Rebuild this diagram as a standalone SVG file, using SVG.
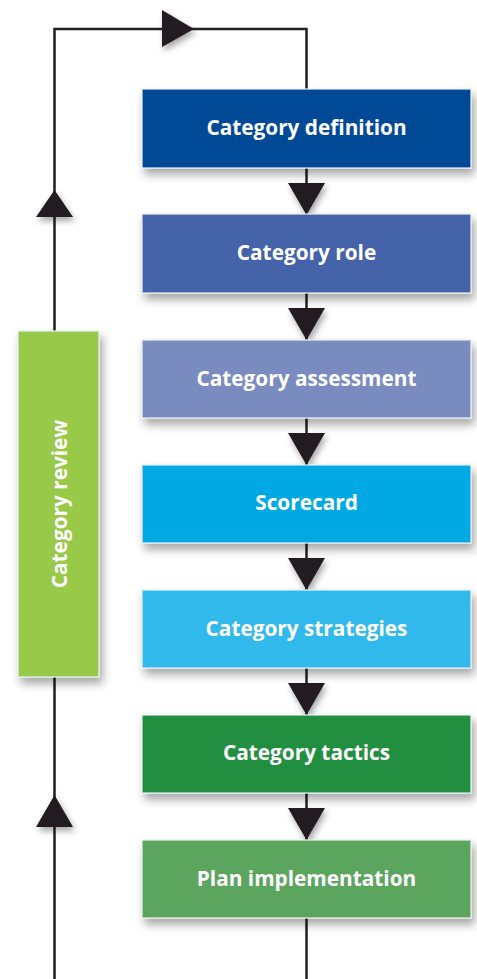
<svg xmlns="http://www.w3.org/2000/svg" width="477" height="979" viewBox="0 0 477 979">
<defs>
<filter id="sh" x="-20%" y="-20%" width="150%" height="150%">
<feDropShadow dx="3" dy="6" stdDeviation="5" flood-color="#000" flood-opacity="0.35"/>
</filter>
<filter id="sh2" x="-50%" y="-50%" width="200%" height="200%">
<feDropShadow dx="2" dy="4" stdDeviation="3" flood-color="#000" flood-opacity="0.35"/>
</filter>
</defs>
<style>
.box{stroke:#e8eef2;stroke-width:1.2;filter:url(#sh)}
.lbl{font-family:"Open Sans","Liberation Sans",sans-serif;font-weight:bold;font-size:20.8px;fill:#fff;text-anchor:middle;dominant-baseline:central}
.ln{stroke:#231f20;stroke-width:2.5;fill:none}
.ah{fill:#231f20;filter:url(#sh2)}
</style>
<rect width="477" height="979" fill="#fff"/>
<g id="connectors">
<polyline class="ln" points="54.5,979 54.5,29 306.5,29 306.5,89"/>
<line class="ln" x1="306.5" y1="918" x2="306.5" y2="979"/>
<line class="ln" x1="306.5" y1="168" x2="306.5" y2="214"/>
<line class="ln" x1="306.5" y1="293" x2="306.5" y2="340"/>
<line class="ln" x1="306.5" y1="418" x2="306.5" y2="465"/>
<line class="ln" x1="306.5" y1="543" x2="306.5" y2="590"/>
<line class="ln" x1="306.5" y1="668" x2="306.5" y2="715"/>
<line class="ln" x1="306.5" y1="793" x2="306.5" y2="840"/>
<polygon class="ah" points="162,10 194,29 162,47"/>
<polygon class="ah" points="36,217 73,217 54.5,190"/>
<polygon class="ah" points="36,827 73,827 54.5,795"/>
<polygon class="ah" points="288,183 325,183 306.5,215"/>
<polygon class="ah" points="288,308 325,308 306.5,340"/>
<polygon class="ah" points="288,433 325,433 306.5,465"/>
<polygon class="ah" points="288,558 325,558 306.5,590"/>
<polygon class="ah" points="288,683 325,683 306.5,715"/>
<polygon class="ah" points="288,808 325,808 306.5,840"/>
</g>
<g id="review">
<rect class="box" x="18" y="331" width="81" height="346" fill="#98c94a"/>
<text class="lbl" transform="translate(58.5,504) rotate(-90)">Category review</text>
</g>
<g id="definition">
<rect class="box" x="142" y="89" width="329" height="79" fill="#004a97"/>
<text class="lbl" x="306.5" y="127">Category definition</text>
</g>
<g id="role">
<rect class="box" x="142" y="214" width="329" height="79" fill="#4463a8"/>
<text class="lbl" x="306.5" y="252">Category role</text>
</g>
<g id="assessment">
<rect class="box" x="142" y="340" width="329" height="78" fill="#7a8bbf"/>
<text class="lbl" x="306.5" y="378">Category assessment</text>
</g>
<g id="scorecard">
<rect class="box" x="142" y="465" width="329" height="78" fill="#00a9e3"/>
<text class="lbl" x="306.5" y="502">Scorecard</text>
</g>
<g id="strategies">
<rect class="box" x="142" y="590" width="329" height="78" fill="#33b9ec"/>
<text class="lbl" x="306.5" y="628">Category strategies</text>
</g>
<g id="tactics">
<rect class="box" x="142" y="715" width="329" height="78" fill="#208f40"/>
<text class="lbl" x="306.5" y="752">Category tactics</text>
</g>
<g id="implementation">
<rect class="box" x="142" y="840" width="329" height="78" fill="#5ba55f"/>
<text class="lbl" x="306.5" y="878">Plan implementation</text>
</g>
</svg>
